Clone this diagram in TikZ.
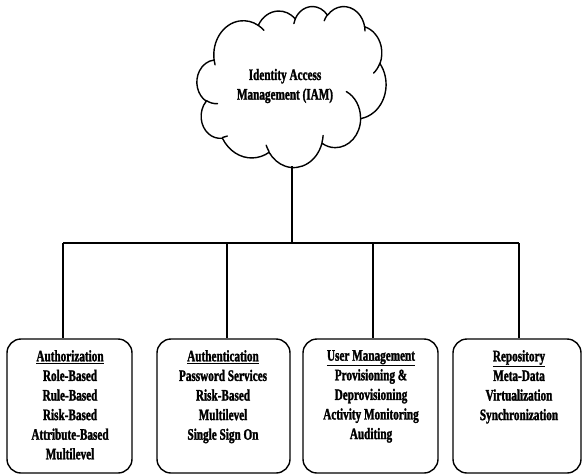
\documentclass[tikz,border=0pt]{standalone}
\usepackage{fontspec}
\setmainfont{Liberation Serif}[FakeStretch=0.70, BoldFeatures={FakeBold=1.6}]
\pgfmathdeclarefunction{parang}{3}{%
  % visual angle #1 on an ellipse with radii #2, #3 -> parametric angle
  \begingroup
  \pgfmathparse{atan2(#2*sin(#1), #3*cos(#1))}%
  \let\pa\pgfmathresult
  \pgfmathparse{\pa + 360*round((#1 - \pa)/360)}%
  \pgfmathsmuggle\pgfmathresult
  \endgroup
}
\tikzset{
  box/.style={draw, line width=1.4pt, rounded corners=14pt, inner sep=0pt},
  lbl/.style={align=center, inner sep=0pt, font=\fontsize{16}{19.6}\selectfont\bfseries},
  link/.style={line width=1.2pt},
  cloudline/.style={line width=1.4pt, line join=round, line cap=round},
}
\begin{document}
\begin{tikzpicture}[x=1pt,y=1pt]
\useasboundingbox (0,0) rectangle (583,-475);

% cloud outline (43200-unit design grid, reduced by 100)
\begin{scope}[shift={(197pt,-6pt)}, xscale=189/432, yscale=-161/432, cloudline]
\draw[fill=white] (39.00pt,143.70pt)
  arc[x radius=67.53pt, y radius=91.90pt, start angle={parang(-190.4875,67.53,91.90)}, end angle={parang(-66.7070,67.53,91.90)}]
  arc[x radius=53.33pt, y radius=72.67pt, start angle={parang(-144.1024,53.33,72.67)}, end angle={parang(-54.1572,53.33,72.67)}]
  arc[x radius=43.65pt, y radius=59.45pt, start angle={parang(-145.8079,43.65,59.45)}, end angle={parang(-46.0849,43.65,59.45)}]
  arc[x radius=48.57pt, y radius=65.95pt, start angle={parang(-130.9861,48.57,65.95)}, end angle={parang(-13.7444,48.57,65.95)}]
  arc[x radius=53.33pt, y radius=72.73pt, start angle={parang(-78.7089,53.33,72.73)}, end angle={parang(30.3180,53.33,72.73)}]
  arc[x radius=67.75pt, y radius=92.20pt, start angle={parang(-46.2673,67.75,92.20)}, end angle={parang(84.0017,67.75,92.20)}]
  arc[x radius=57.85pt, y radius=78.67pt, start angle={parang(0.6250,57.85,78.67)}, end angle={parang(114.6583,57.85,78.67)}]
  arc[x radius=67.52pt, y radius=92.15pt, start angle={parang(22.4516,67.52,92.15)}, end angle={parang(137.6242,67.52,92.15)}]
  arc[x radius=77.20pt, y radius=105.43pt, start angle={parang(66.2426,77.20,105.43)}, end angle={parang(141.9536,77.20,105.43)}]
  arc[x radius=43.60pt, y radius=59.18pt, start angle={parang(-274.9421,43.60,59.18)}, end angle={parang(-128.2065,43.60,59.18)}]
  arc[x radius=43.45pt, y radius=59.45pt, start angle={parang(-246.8285,43.45,59.45)}, end angle={parang(-94.3096,43.45,59.45)}]
  -- cycle;
% inner hooks of the cloud
\draw (46.93pt,261.77pt) arc[x radius=43.45pt, y radius=59.45pt, start angle={parang(86.7420,43.45,59.45)}, end angle={parang(113.1715,43.45,59.45)}];
\draw (69.28pt,348.99pt) arc[x radius=43.60pt, y radius=59.18pt, start angle={parang(73.6105,43.60,59.18)}, end angle={parang(85.0580,43.60,59.18)}];
\draw (164.78pt,390.90pt) arc[x radius=67.52pt, y radius=92.15pt, start angle={parang(137.6242,67.52,92.15)}, end angle={parang(151.7053,67.52,92.15)}];
\draw (288.27pt,347.51pt) arc[x radius=67.52pt, y radius=92.15pt, start angle={parang(6.4533,67.52,92.15)}, end angle={parang(22.4517,67.52,92.15)}];
\draw (341.29pt,229.54pt) arc[x radius=57.85pt, y radius=78.67pt, start angle={parang(-70.2924,57.85,78.67)}, end angle={parang(0.6250,57.85,78.67)}];
\draw (417.98pt,153.54pt) arc[x radius=53.33pt, y radius=72.73pt, start angle={parang(30.3180,53.33,72.73)}, end angle={parang(58.0695,53.33,72.73)}];
\draw (383.24pt,54.26pt) arc[x radius=48.57pt, y radius=65.95pt, start angle={parang(-13.7443,48.57,65.95)}, end angle={parang(1.1146,48.57,65.95)}];
\draw (290.78pt,39.52pt) arc[x radius=48.57pt, y radius=65.95pt, start angle={parang(-149.1815,48.57,65.95)}, end angle={parang(-130.9861,48.57,65.95)}];
\draw (221.41pt,47.20pt) arc[x radius=43.65pt, y radius=59.45pt, start angle={parang(-163.4943,43.65,59.45)}, end angle={parang(-145.8079,43.65,59.45)}];
\draw (140.00pt,51.92pt) arc[x radius=67.53pt, y radius=91.90pt, start angle={parang(-66.7070,67.53,91.90)}, end angle={parang(-54.3876,67.53,91.90)}];
\draw (41.27pt,157.89pt) arc[x radius=67.53pt, y radius=91.90pt, start angle={parang(157.6544,67.53,91.90)}, end angle={parang(169.5126,67.53,91.90)}];
\end{scope}

\node[lbl] (iam) at (285,-86) {Identity Access\\Management (IAM)};
\coordinate (cloudbase) at (292,-166);

% category boxes
\node[box, minimum width=125pt, minimum height=134pt] (b1) at (69.5,-406) {};
\node[box, minimum width=133pt, minimum height=134pt] (b2) at (223.5,-406) {};
\node[box, minimum width=135pt, minimum height=134pt] (b3) at (370.5,-406) {};
\node[box, minimum width=128pt, minimum height=134pt] (b4) at (517,-406) {};

\node[lbl, anchor=north] (t1) at (70,-350) {\underline{Authorization}\\Role-Based\\Rule-Based\\Risk-Based\\Attribute-Based\\Multilevel};
\node[lbl, anchor=north] (t2) at (223,-350) {\underline{Authentication}\\Password Services\\Risk-Based\\Multilevel\\Single Sign On};
\node[lbl, anchor=north] (t3) at (371,-350) {\underline{User Management}\\Provisioning \&\\Deprovisioning\\Activity Monitoring\\Auditing};
\node[lbl, anchor=north] (t4) at (519,-350) {\underline{Repository}\\Meta-Data\\Virtualization\\Synchronization};

% tree connectors
\coordinate (hub) at (292,-243);
\coordinate (j1) at (63,-243);
\coordinate (j2) at (227,-243);
\coordinate (j3) at (373,-243);
\coordinate (j4) at (519,-243);
\draw[link] (cloudbase) -- (hub);
\draw[link] (j1) -- (j4);
\draw[link] (j1) -- (j1 |- b1.north);
\draw[link] (j2) -- (j2 |- b2.north);
\draw[link] (j3) -- (j3 |- b3.north);
\draw[link] (j4) -- (j4 |- b4.north);
\end{tikzpicture}
\end{document}
